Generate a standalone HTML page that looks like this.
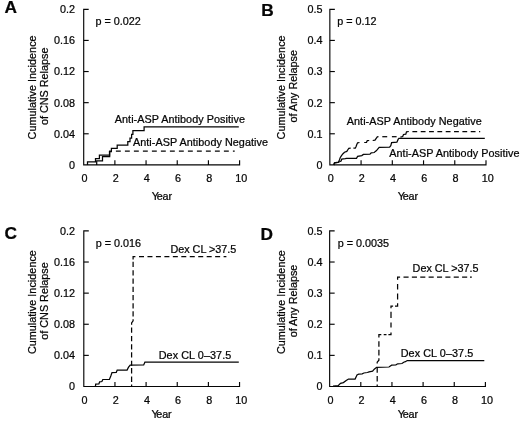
<!DOCTYPE html>
<html><head><meta charset="utf-8"><title>Figure</title>
<style>
html,body{margin:0;padding:0;background:#fff;}
svg{display:block;filter:grayscale(1);font-family:"Liberation Sans",sans-serif;font-size:10.8px;fill:#050505;}
text{stroke:#050505;stroke-width:0.24px;}
</style></head>
<body>
<svg width="520" height="424" viewBox="0 0 520 424">
<rect width="520" height="424" fill="#fff"/>
<path d="M88.7,9.3 L83.7,9.3 L83.7,164.9 L239.6,164.9 L239.6,160.3" fill="none" stroke="#050505" stroke-width="1.15" stroke-linejoin="miter"/>
<path d="M83.7,133.78 h5.0" stroke="#050505" stroke-width="1.15"/>
<path d="M83.7,102.66 h5.0" stroke="#050505" stroke-width="1.15"/>
<path d="M83.7,71.54 h5.0" stroke="#050505" stroke-width="1.15"/>
<path d="M83.7,40.42 h5.0" stroke="#050505" stroke-width="1.15"/>
<path d="M114.88,164.9 v-4.6" stroke="#050505" stroke-width="1.15"/>
<path d="M146.06,164.9 v-4.6" stroke="#050505" stroke-width="1.15"/>
<path d="M177.24,164.9 v-4.6" stroke="#050505" stroke-width="1.15"/>
<path d="M208.42,164.9 v-4.6" stroke="#050505" stroke-width="1.15"/>
<text x="75" y="168.80" text-anchor="end">0</text>
<text x="75" y="137.68" text-anchor="end">0.04</text>
<text x="75" y="106.56" text-anchor="end">0.08</text>
<text x="75" y="75.44" text-anchor="end">0.12</text>
<text x="75" y="44.32" text-anchor="end">0.16</text>
<text x="75" y="13.20" text-anchor="end">0.2</text>
<text x="84.50" y="181.60" text-anchor="middle">0</text>
<text x="115.68" y="181.60" text-anchor="middle">2</text>
<text x="146.86" y="181.60" text-anchor="middle">4</text>
<text x="178.04" y="181.60" text-anchor="middle">6</text>
<text x="209.22" y="181.60" text-anchor="middle">8</text>
<text x="241.30" y="181.60" text-anchor="middle">10</text>
<text x="151.70000000000002" y="200.35">Y<tspan dx="-1.25">e</tspan><tspan dx="-0.15">a</tspan><tspan dx="-0.15">r</tspan></text>
<text transform="translate(35.5,87.39999999999999) rotate(-90)" text-anchor="middle" letter-spacing="0.04">Cumulative Incidence</text>
<text transform="translate(48.3,86.3) rotate(-90)" text-anchor="middle">of CNS Relapse</text>
<path d="M334.85,9.3 L329.85,9.3 L329.85,164.9 L486.0,164.9 L486.0,160.3" fill="none" stroke="#050505" stroke-width="1.15" stroke-linejoin="miter"/>
<path d="M329.85,133.78 h5.0" stroke="#050505" stroke-width="1.15"/>
<path d="M329.85,102.66 h5.0" stroke="#050505" stroke-width="1.15"/>
<path d="M329.85,71.54 h5.0" stroke="#050505" stroke-width="1.15"/>
<path d="M329.85,40.42 h5.0" stroke="#050505" stroke-width="1.15"/>
<path d="M361.08,164.9 v-4.6" stroke="#050505" stroke-width="1.15"/>
<path d="M392.31,164.9 v-4.6" stroke="#050505" stroke-width="1.15"/>
<path d="M423.54,164.9 v-4.6" stroke="#050505" stroke-width="1.15"/>
<path d="M454.77,164.9 v-4.6" stroke="#050505" stroke-width="1.15"/>
<text x="322.6" y="168.80" text-anchor="end">0</text>
<text x="322.6" y="137.68" text-anchor="end">0.1</text>
<text x="322.6" y="106.56" text-anchor="end">0.2</text>
<text x="322.6" y="75.44" text-anchor="end">0.3</text>
<text x="322.6" y="44.32" text-anchor="end">0.4</text>
<text x="322.6" y="13.20" text-anchor="end">0.5</text>
<text x="330.65" y="181.60" text-anchor="middle">0</text>
<text x="361.88" y="181.60" text-anchor="middle">2</text>
<text x="393.11" y="181.60" text-anchor="middle">4</text>
<text x="424.34" y="181.60" text-anchor="middle">6</text>
<text x="455.57" y="181.60" text-anchor="middle">8</text>
<text x="487.70" y="181.60" text-anchor="middle">10</text>
<text x="397.7" y="200.35">Y<tspan dx="-1.25">e</tspan><tspan dx="-0.15">a</tspan><tspan dx="-0.15">r</tspan></text>
<text transform="translate(284.6,87.39999999999999) rotate(-90)" text-anchor="middle" letter-spacing="0.04">Cumulative Incidence</text>
<text transform="translate(297.0,86.3) rotate(-90)" text-anchor="middle">of Any Relapse</text>
<path d="M88.8,230.9 L83.8,230.9 L83.8,386.5 L239.55,386.5 L239.55,381.9" fill="none" stroke="#050505" stroke-width="1.15" stroke-linejoin="miter"/>
<path d="M83.8,355.38 h5.0" stroke="#050505" stroke-width="1.15"/>
<path d="M83.8,324.26 h5.0" stroke="#050505" stroke-width="1.15"/>
<path d="M83.8,293.14 h5.0" stroke="#050505" stroke-width="1.15"/>
<path d="M83.8,262.02 h5.0" stroke="#050505" stroke-width="1.15"/>
<path d="M114.95,386.5 v-4.6" stroke="#050505" stroke-width="1.15"/>
<path d="M146.10,386.5 v-4.6" stroke="#050505" stroke-width="1.15"/>
<path d="M177.25,386.5 v-4.6" stroke="#050505" stroke-width="1.15"/>
<path d="M208.40,386.5 v-4.6" stroke="#050505" stroke-width="1.15"/>
<text x="75" y="390.40" text-anchor="end">0</text>
<text x="75" y="359.28" text-anchor="end">0.04</text>
<text x="75" y="328.16" text-anchor="end">0.08</text>
<text x="75" y="297.04" text-anchor="end">0.12</text>
<text x="75" y="265.92" text-anchor="end">0.16</text>
<text x="75" y="234.80" text-anchor="end">0.2</text>
<text x="84.60" y="403.55" text-anchor="middle">0</text>
<text x="115.75" y="403.55" text-anchor="middle">2</text>
<text x="146.90" y="403.55" text-anchor="middle">4</text>
<text x="178.05" y="403.55" text-anchor="middle">6</text>
<text x="209.20" y="403.55" text-anchor="middle">8</text>
<text x="241.25" y="403.55" text-anchor="middle">10</text>
<text x="151.4" y="418.4">Y<tspan dx="-1.25">e</tspan><tspan dx="-0.15">a</tspan><tspan dx="-0.15">r</tspan></text>
<text transform="translate(35.9,302.1) rotate(-90)" text-anchor="middle" letter-spacing="0.04">Cumulative Incidence</text>
<text transform="translate(48.3,301.0) rotate(-90)" text-anchor="middle">of CNS Relapse</text>
<path d="M334.65,230.9 L329.65,230.9 L329.65,386.5 L485.4,386.5 L485.4,381.9" fill="none" stroke="#050505" stroke-width="1.15" stroke-linejoin="miter"/>
<path d="M329.65,355.38 h5.0" stroke="#050505" stroke-width="1.15"/>
<path d="M329.65,324.26 h5.0" stroke="#050505" stroke-width="1.15"/>
<path d="M329.65,293.14 h5.0" stroke="#050505" stroke-width="1.15"/>
<path d="M329.65,262.02 h5.0" stroke="#050505" stroke-width="1.15"/>
<path d="M360.80,386.5 v-4.6" stroke="#050505" stroke-width="1.15"/>
<path d="M391.95,386.5 v-4.6" stroke="#050505" stroke-width="1.15"/>
<path d="M423.10,386.5 v-4.6" stroke="#050505" stroke-width="1.15"/>
<path d="M454.25,386.5 v-4.6" stroke="#050505" stroke-width="1.15"/>
<text x="322.6" y="390.40" text-anchor="end">0</text>
<text x="322.6" y="359.28" text-anchor="end">0.1</text>
<text x="322.6" y="328.16" text-anchor="end">0.2</text>
<text x="322.6" y="297.04" text-anchor="end">0.3</text>
<text x="322.6" y="265.92" text-anchor="end">0.4</text>
<text x="322.6" y="234.80" text-anchor="end">0.5</text>
<text x="330.45" y="403.55" text-anchor="middle">0</text>
<text x="361.60" y="403.55" text-anchor="middle">2</text>
<text x="392.75" y="403.55" text-anchor="middle">4</text>
<text x="423.90" y="403.55" text-anchor="middle">6</text>
<text x="455.05" y="403.55" text-anchor="middle">8</text>
<text x="487.10" y="403.55" text-anchor="middle">10</text>
<text x="397.7" y="418.4">Y<tspan dx="-1.25">e</tspan><tspan dx="-0.15">a</tspan><tspan dx="-0.15">r</tspan></text>
<text transform="translate(284.6,302.1) rotate(-90)" text-anchor="middle" letter-spacing="0.04">Cumulative Incidence</text>
<text transform="translate(297.1,301.0) rotate(-90)" text-anchor="middle">of Any Relapse</text>
<path d="M87.50,164.90 L87.50,161.90 L95.50,161.90 L95.50,158.50 L99.40,158.50 L99.40,155.10 L109.50,155.10 L109.50,151.60 L111.40,151.60 L111.40,148.30 L117.20,148.30 L117.20,145.10 L127.80,145.10 L127.80,141.60 L130.00,141.60 L130.00,138.00 L131.60,138.00 L131.60,134.40 L132.90,134.40 L132.90,130.60 L144.10,130.60 L144.10,126.80 L238.80,126.80" fill="none" stroke="#050505" stroke-width="1.25" stroke-linejoin="miter"/>
<path d="M96.70,164.90 L96.70,160.80 L102.50,160.80 L102.50,156.50 L109.70,156.50 L109.70,151.20 L111.00,151.20" fill="none" stroke="#050505" stroke-width="1.25" stroke-linejoin="miter"/>
<path d="M115.9,151.1 H234.7" fill="none" stroke="#050505" stroke-width="1.25" stroke-dasharray="4.9 4.1" stroke-dashoffset="0"/>
<path d="M333.80,165.00 L334.50,162.90 L338.00,162.50 L339.50,161.80 L341.10,161.00 L341.80,159.10 L345.30,158.70 L346.50,158.30 L356.50,158.30 L357.60,156.40 L361.80,155.60 L363.40,154.40 L370.00,154.10 L371.20,152.90 L374.20,152.50 L375.40,151.40 L376.50,150.60 L378.10,148.70 L379.20,147.40 L389.60,147.20 L390.80,145.60 L391.60,142.60 L396.90,142.20 L398.10,139.40 L398.90,138.40 L484.80,138.40" fill="none" stroke="#050505" stroke-width="1.25" stroke-linejoin="miter"/>
<path d="M333.80,165.00 L334.50,162.80 L338.40,162.20 L339.50,159.80 L340.30,157.50 L341.50,155.60 L343.00,153.70 L344.50,152.20 L346.80,151.40 L348.00,149.50 L348.80,148.30 L350.70,148.20" fill="none" stroke="#050505" stroke-width="1.25" stroke-linejoin="miter"/>
<path d="M353.40,148.20 L355.30,148.20 L356.10,146.40 L356.80,144.50 L357.60,142.80 L359.50,142.50" fill="none" stroke="#050505" stroke-width="1.25" stroke-linejoin="miter"/>
<path d="M364.20,142.50 L366.50,142.30 L367.30,140.60 L369.20,140.50" fill="none" stroke="#050505" stroke-width="1.25" stroke-linejoin="miter"/>
<path d="M372.70,140.50 L375.00,140.20 L376.20,138.30 L377.30,136.80 L378.50,136.70" fill="none" stroke="#050505" stroke-width="1.25" stroke-linejoin="miter"/>
<path d="M382.3,136.7 H387.2" fill="none" stroke="#050505" stroke-width="1.25" stroke-linejoin="miter"/>
<path d="M391.9,136.7 H396.6" fill="none" stroke="#050505" stroke-width="1.25" stroke-linejoin="miter"/>
<path d="M400.40,137.20 L402.70,136.50 L403.50,134.50 L405.80,134.20 L406.50,131.80 L408.80,131.50" fill="none" stroke="#050505" stroke-width="1.25" stroke-linejoin="miter"/>
<path d="M412.4,131.5 H480.2" fill="none" stroke="#050505" stroke-width="1.25" stroke-dasharray="4.8 3.53" stroke-dashoffset="0"/>
<path d="M95.40,386.50 L95.70,384.20 L98.90,384.00 L99.60,381.90 L101.90,381.50 L102.80,379.50 L109.40,379.40 L110.80,376.00 L112.00,372.60 L116.30,372.30 L117.20,370.00 L127.10,370.00 L128.40,367.40 L130.20,365.10 L143.70,364.90 L144.90,362.20 L238.80,362.20" fill="none" stroke="#050505" stroke-width="1.25" stroke-linejoin="miter"/>
<path d="M133.10,259.50 L133.10,256.70 L135.40,256.70 M133.10,261.70 L133.10,267.00 M133.10,270.20 L133.10,275.50 M133.10,278.50 L133.10,283.80 M133.10,286.80 L133.10,292.10 M133.10,295.00 L133.10,300.30 M133.10,303.30 L133.10,308.60 M133.10,311.20 L133.10,316.50 M133.10,319.30 L133.10,320.80 L131.60,323.00 L131.60,324.70 M131.60,327.40 L131.60,332.70 M131.60,335.90 L131.60,341.20 M131.60,344.20 L131.60,349.50 M131.60,352.20 L131.60,357.50 M131.60,360.70 L131.60,365.80 M131.60,368.10 L131.60,373.40 M131.60,376.60 L131.60,381.90 M131.60,384.40 L131.60,386.50 M139.00,256.70 L144.00,256.70 M147.46,256.70 L152.46,256.70 M155.92,256.70 L160.92,256.70 M164.38,256.70 L169.38,256.70 M172.84,256.70 L177.84,256.70 M181.30,256.70 L186.30,256.70 M189.76,256.70 L194.76,256.70 M198.22,256.70 L203.22,256.70 M206.68,256.70 L211.68,256.70 M215.14,256.70 L220.14,256.70 M223.60,256.70 L226.40,256.70" fill="none" stroke="#050505" stroke-width="1.25" stroke-linejoin="miter"/>
<path d="M333.00,386.00 L338.20,385.70 L340.50,383.40 L343.40,382.60 L346.20,380.50 L348.50,379.00 L355.10,379.00 L357.00,375.00 L358.70,374.20 L362.20,373.80 L363.90,373.00 L367.40,372.50 L369.10,371.80 L372.60,371.20 L374.30,369.20 L376.60,367.30 L389.00,367.00 L391.60,365.20 L395.90,364.80 L397.70,363.80 L402.00,363.50 L403.70,362.20 L405.40,361.70 L407.20,360.50 L484.30,360.50" fill="none" stroke="#050505" stroke-width="1.25" stroke-linejoin="miter"/>
<path d="M377.20,384.50 L377.20,386.50 M377.20,376.00 L377.20,381.60 M377.20,367.30 L377.20,372.80 M377.20,363.40 L377.20,362.20 L378.90,360.20 L378.90,358.30 M378.90,349.80 L378.90,355.50 M378.90,341.30 L378.90,346.70 M378.90,337.60 L378.90,334.70 L381.30,334.70 M383.70,334.70 L386.50,334.70 M388.40,334.70 L391.00,334.70 L391.00,332.50 M391.00,322.50 L391.00,327.40 M391.00,311.80 L391.00,317.90 M391.00,308.30 L391.00,306.00 L393.10,306.00 M395.00,306.00 L397.60,306.00 L397.60,303.30 M397.60,293.40 L397.60,299.50 M397.60,283.90 L397.60,289.60 M397.60,279.80 L397.60,277.10 L400.10,277.10 M403.50,277.10 L408.60,277.10 M411.87,277.10 L416.97,277.10 M420.24,277.10 L425.34,277.10 M428.61,277.10 L433.71,277.10 M436.98,277.10 L442.08,277.10 M445.35,277.10 L450.45,277.10 M453.72,277.10 L458.82,277.10 M462.09,277.10 L467.19,277.10 M470.00,277.10 L471.80,277.10" fill="none" stroke="#050505" stroke-width="1.25" stroke-linejoin="miter"/>
<text x="95.5" y="24.5" text-anchor="start" >p = 0.022</text>
<text x="337.2" y="24.5" text-anchor="start" >p = 0.12</text>
<text x="95.8" y="247.0" text-anchor="start" >p = 0.016</text>
<text x="337.7" y="247.3" text-anchor="start" >p = 0.0035</text>
<text x="114.8" y="123.3" text-anchor="start" letter-spacing="0.05">Anti-ASP Antibody Positive</text>
<text x="133" y="146.3" text-anchor="start" letter-spacing="0.05">Anti-ASP Antibody Negative</text>
<text x="346.8" y="125.0" text-anchor="start" letter-spacing="0.05">Anti-ASP Antibody Negative</text>
<text x="389.3" y="157.1" text-anchor="start" letter-spacing="0.05">Anti-ASP Antibody Positive</text>
<text x="170.4" y="252.7" text-anchor="start" >Dex CL &gt;37.5</text>
<text x="158.7" y="358.8" text-anchor="start" letter-spacing="0.08">Dex CL 0–37.5</text>
<text x="412.6" y="271.7" text-anchor="start" >Dex CL &gt;37.5</text>
<text x="400.7" y="356.8" text-anchor="start" letter-spacing="0.08">Dex CL 0–37.5</text>
<text x="4.6" y="13.4" text-anchor="start" font-weight="bold" font-size="17.3">A</text>
<text x="261.3" y="15.6" text-anchor="start" font-weight="bold" font-size="17.3">B</text>
<text x="4.4" y="238.8" text-anchor="start" font-weight="bold" font-size="17.3">C</text>
<text x="260.6" y="239.8" text-anchor="start" font-weight="bold" font-size="17.3">D</text>
</svg>
</body></html>
